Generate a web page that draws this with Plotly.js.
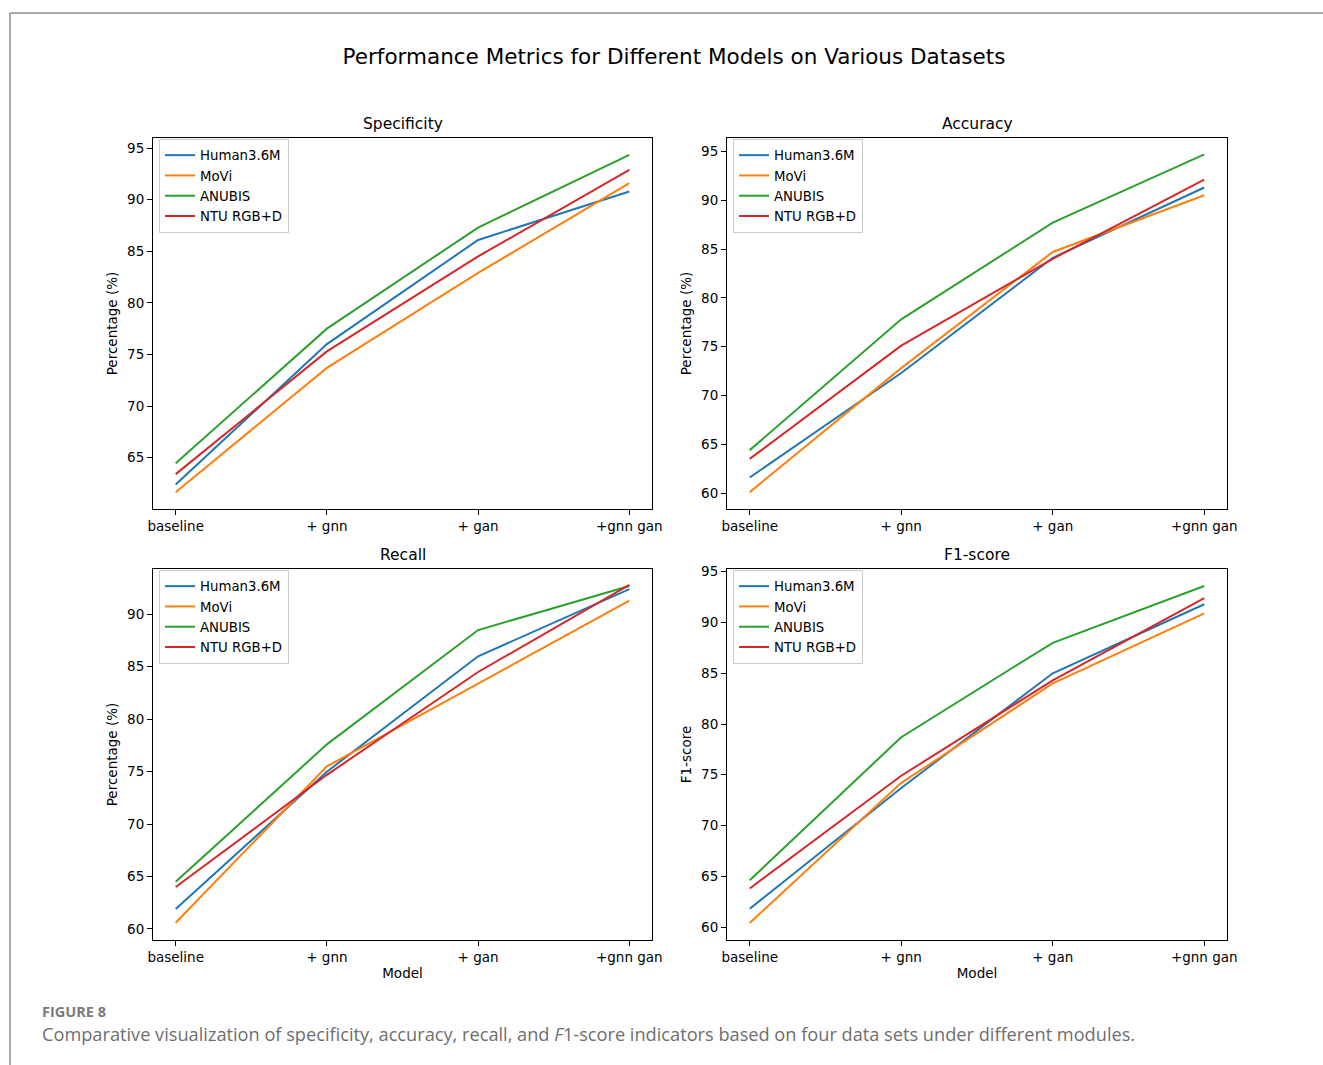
<!DOCTYPE html>
<html><head><meta charset="utf-8">
<script src="https://cdn.plot.ly/plotly-3.0.1.min.js"></script>
<style>html,body{margin:0;padding:0;background:#fff;} #chart{width:1323px;height:1065px;}</style>
</head><body><div id="chart"></div>
<script>
// ---- data ----
const models = ["baseline", "+ gnn", "+ gan", "+gnn gan"];
const datasets = ["Human3.6M", "MoVi", "ANUBIS", "NTU RGB+D"];
const metricTitles = ["Specificity", "Accuracy", "Recall", "F1-score"];
const yTitles = ["Percentage (%)", "Percentage (%)", "Percentage (%)", "F1-score"];

const specificityHuman = [62.4, 76.0, 86.1, 90.8];
const specificityMoVi = [61.65, 73.7, 82.9, 91.6];
const specificityANUBIS = [64.45, 77.5, 87.3, 94.35];
const specificityNTU = [63.4, 75.3, 84.5, 92.9];

const accuracyHuman = [61.6, 72.3, 84.1, 91.3];
const accuracyMoVi = [60.1, 72.8, 84.7, 90.5];
const accuracyANUBIS = [64.4, 77.8, 87.7, 94.7];
const accuracyNTU = [63.5, 75.1, 84.0, 92.1];

const recallHuman = [61.9, 75.0, 86.0, 92.4];
const recallMoVi = [60.6, 75.5, 83.4, 91.3];
const recallANUBIS = [64.5, 77.6, 88.5, 92.7];
const recallNTU = [64.0, 74.7, 84.5, 92.8];

const f1Human = [61.8, 73.7, 85.0, 91.8];
const f1MoVi = [60.4, 74.2, 84.0, 90.9];
const f1ANUBIS = [64.6, 78.7, 88.0, 93.6];
const f1NTU = [63.8, 74.9, 84.3, 92.4];

// ---- layout helpers ----
const W = 1323, H = 1065;
const colors = ["#1f77b4", "#ff7f0e", "#2ca02c", "#d62728"];
const metricSeries = [
  [specificityHuman, specificityMoVi, specificityANUBIS, specificityNTU],
  [accuracyHuman, accuracyMoVi, accuracyANUBIS, accuracyNTU],
  [recallHuman, recallMoVi, recallANUBIS, recallNTU],
  [f1Human, f1MoVi, f1ANUBIS, f1NTU]
];
// pixel boxes [left, right, top, bottom]
const boxes = [
  [153, 652, 138, 509],
  [727, 1227, 138, 509],
  [153, 652, 569, 940],
  [727, 1227, 569, 940]
];
const yRanges = [[60.02, 95.98], [58.37, 96.37], [58.95, 94.32], [58.72, 95.27]];

const FONT = "DejaVu Sans, sans-serif";
const traces = [];
const layout = {
  width: W, height: H,
  margin: {l: 0, r: 0, t: 0, b: 0},
  paper_bgcolor: "#fff", plot_bgcolor: "#fff",
  font: {family: FONT, size: 13.5, color: "#000"},
  title: {text: "Performance Metrics for Different Models on Various Datasets",
          x: 674 / W, xanchor: "center", y: 1 - 56 / H, yanchor: "middle",
          font: {family: FONT, size: 21.5, color: "#000"}},
  annotations: [],
  shapes: [
    {type: "line", xref: "paper", yref: "paper", x0: 10 / W, x1: 1, y0: 1 - 13 / H, y1: 1 - 13 / H,
     line: {color: "#8c8c8c", width: 1.5}},
    {type: "line", xref: "paper", yref: "paper", x0: 10 / W, x1: 10 / W, y0: 0, y1: 1 - 13 / H,
     line: {color: "#8c8c8c", width: 1.5}}
  ]
};

for (let k = 0; k < 4; k++) {
  const [l, r, t, b] = boxes[k];
  const sfx = k === 0 ? "" : String(k + 1);
  const legName = k === 0 ? "legend" : "legend" + (k + 1);
  for (let s = 0; s < 4; s++) {
    traces.push({
      type: "scatter", mode: "lines",
      x: models, y: metricSeries[k][s],
      name: datasets[s],
      line: {color: colors[s], width: 2},
      xaxis: "x" + sfx, yaxis: "y" + sfx,
      legend: legName
    });
  }
  layout["xaxis" + sfx] = {
    domain: [l / W, r / W], anchor: "y" + sfx,
    type: "category", categoryorder: "array", categoryarray: models,
    range: [-0.15, 3.15],
    showline: true, mirror: true, linecolor: "#000", linewidth: 1,
    ticks: "outside", ticklen: 5, tickwidth: 1, tickcolor: "#000",
    showgrid: false, zeroline: false,
    tickfont: {family: FONT, size: 13.5, color: "#000"},
    title: k >= 2 ? {text: "Model", font: {family: FONT, size: 13.5, color: "#000"}, standoff: 4} : {text: ""}
  };
  layout["yaxis" + sfx] = {
    domain: [1 - b / H, 1 - t / H], anchor: "x" + sfx,
    range: yRanges[k], tick0: 0, dtick: 5,
    showline: true, mirror: true, linecolor: "#000", linewidth: 1,
    ticks: "outside", ticklen: 5, tickwidth: 1, tickcolor: "#000",
    showgrid: false, zeroline: false,
    tickfont: {family: FONT, size: 13.5, color: "#000"},
    title: {text: yTitles[k], font: {family: FONT, size: 13.5, color: "#000"}, standoff: 6}
  };
  layout[legName] = {
    x: (l + 6) / W, xanchor: "left", y: 1 - (t + 1) / H, yanchor: "top",
    xref: "paper", yref: "paper",
    bgcolor: "rgba(255,255,255,0.85)", bordercolor: "#cccccc", borderwidth: 1,
    font: {family: FONT, size: 13.3, color: "#000"},
    tracegroupgap: 0
  };
  layout.annotations.push({
    text: metricTitles[k], xref: "paper", yref: "paper",
    x: (l + r) / 2 / W, y: 1 - (t - 14) / H, xanchor: "center", yanchor: "middle",
    showarrow: false, font: {family: FONT, size: 15.5, color: "#000"}
  });
}

layout.annotations.push({
  text: "<b>FIGURE 8</b>", xref: "paper", yref: "paper",
  x: 40 / W, y: 1 - 1011 / H, xanchor: "left", yanchor: "middle",
  showarrow: false, font: {family: "Open Sans, sans-serif", size: 14.5, color: "#7a7a7a"}
});
layout.annotations.push({
  text: "Comparative visualization of specificity, accuracy, recall, and <i>F</i>1-score indicators based on four data sets under different modules.",
  xref: "paper", yref: "paper",
  x: 40 / W, y: 1 - 1034 / H, xanchor: "left", yanchor: "middle",
  showarrow: false, font: {family: "Open Sans, sans-serif", size: 18.2, color: "#6e6e6e"}
});

Plotly.newPlot("chart", traces, layout, {staticPlot: true, displayModeBar: false});
</script>
</body></html>
